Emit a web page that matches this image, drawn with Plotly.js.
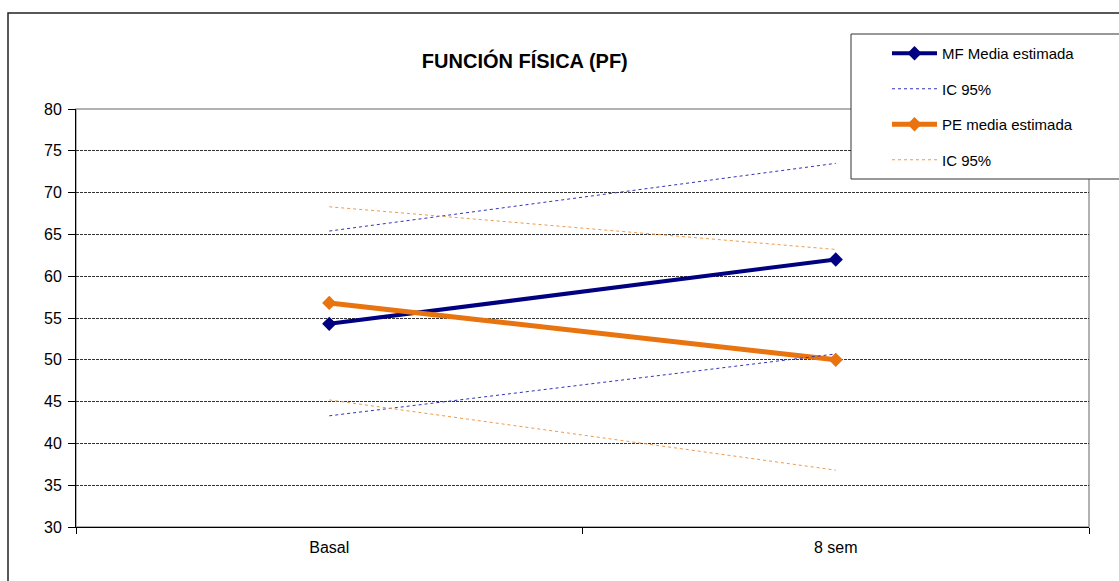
<!DOCTYPE html>
<html>
<head>
<meta charset="utf-8">
<script src="https://cdn.plot.ly/plotly-3.0.1.min.js"></script>
<style>html,body{margin:0;padding:0;background:#fff;}#chart{width:1119px;height:581px;}</style>
</head>
<body>
<div id="chart"></div>
<script>
const categories = ["Basal", "8 sem"];
const mfMean = [54.3, 62.0];
const mfUpper = [65.4, 73.5];
const mfLower = [43.3, 50.7];
const peMean = [56.8, 50.0];
const peUpper = [68.3, 63.2];
const peLower = [45.2, 36.8];
const yTicks = [30, 35, 40, 45, 50, 55, 60, 65, 70, 75, 80];

const navy = "#000080";
const blueCI = "#3333bb";
const orange = "#E8730F";
const orangeCI = "#F09A4A";

const traces = [
  {x: categories, y: mfMean, name: "MF Media estimada", mode: "lines+markers", legendgroup: "a",
   line: {color: navy, width: 4}, marker: {symbol: "diamond", size: 11, color: navy}},
  {x: categories, y: mfUpper, name: "IC 95%", mode: "lines", legendgroup: "b",
   line: {color: blueCI, width: 1, dash: "dot"}},
  {x: categories, y: peMean, name: "PE media estimada", mode: "lines+markers", legendgroup: "c",
   line: {color: orange, width: 5}, marker: {symbol: "diamond", size: 11, color: orange}},
  {x: categories, y: peUpper, name: "IC 95%", mode: "lines", legendgroup: "d",
   line: {color: orangeCI, width: 1, dash: "dot"}},
  {x: categories, y: mfLower, name: "IC 95%", mode: "lines", showlegend: false,
   line: {color: blueCI, width: 1, dash: "dot"}},
  {x: categories, y: peLower, name: "IC 95%", mode: "lines", showlegend: false,
   line: {color: orangeCI, width: 1, dash: "dot"}}
];

// pixel helpers for paper coordinates (plot area 76..1089 x, 109..527 y)
const px = v => (v - 76) / 1013;
const py = v => (527 - v) / 418;

const layout = {
  width: 1119, height: 581,
  margin: {l: 76, r: 30, t: 109, b: 54},
  paper_bgcolor: "#fff", plot_bgcolor: "#fff",
  font: {family: "Liberation Sans, Arial, sans-serif", color: "#000", size: 16},
  title: {text: "<b>FUNCIÓN FÍSICA (PF)</b>", font: {size: 20, color: "#000"},
          x: 0.469, xref: "container", y: 1 - 61 / 581, yref: "container", xanchor: "center", yanchor: "middle"},
  xaxis: {type: "category", range: [-0.5, 1.5], tickson: "boundaries", ticks: "outside", ticklen: 6,
          tickcolor: "#000", showline: true, linecolor: "#000", linewidth: 1, showgrid: false,
          zeroline: false, tickfont: {size: 16}, ticklabelstandoff: 6},
  yaxis: {range: [30, 80], tickvals: yTicks, ticks: "outside", ticklen: 7, tickcolor: "#000",
          showline: true, linecolor: "#000", linewidth: 1, showgrid: true, gridcolor: "#333",
          griddash: "3px,1px", gridwidth: 1, zeroline: false, tickfont: {size: 16}, ticklabelstandoff: 3},
  legend: {x: px(887), y: py(37), xanchor: "left", yanchor: "top", bgcolor: "rgba(0,0,0,0)",
           borderwidth: 0, font: {size: 15}, tracegroupgap: 13,
           itemwidth: 45, traceorder: "grouped"},
  shapes: [
    {type: "rect", xref: "paper", yref: "paper", x0: 0, x1: 1, y0: 0, y1: 1,
     line: {color: "#999", width: 1.5}, layer: "below"},
    {type: "path", xref: "paper", yref: "paper",
     path: `M ${px(8)},-0.2 L ${px(8)},${py(13)} L 1.1,${py(13)}`,
     line: {color: "#222", width: 1.5}, layer: "below"},
    {type: "rect", xref: "paper", yref: "paper", x0: px(851), x1: 1.1, y0: py(179), y1: py(34),
     fillcolor: "#fff", line: {width: 0}, layer: "above"},
    {type: "path", xref: "paper", yref: "paper",
     path: `M 1.1,${py(34)} L ${px(851)},${py(34)} L ${px(851)},${py(179)} L 1.1,${py(179)}`,
     line: {color: "#333", width: 1}, layer: "above"}
  ],
  showlegend: true
};

Plotly.newPlot("chart", traces, layout, {displayModeBar: false, staticPlot: true});
</script>
</body>
</html>
